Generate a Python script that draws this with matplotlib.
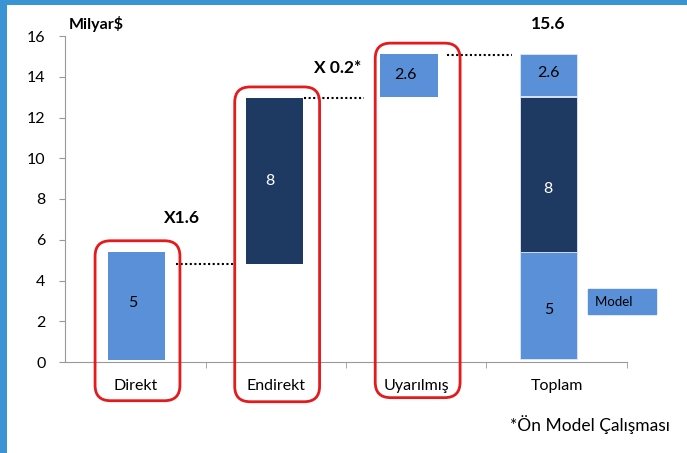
import numpy as np
import matplotlib
matplotlib.use("Agg")
from matplotlib import pyplot as plt
from matplotlib.patches import FancyBboxPatch, Rectangle

# categories and values
categories = ["Direkt", "Endirekt", "Uyarılmış", "Toplam"]
bar_x = [0.01, 0.99, 1.95, 2.94]

# single bars (bottom, top)
single_bottom = [0.1, 4.8, 13.0]
single_top = [5.4, 12.95, 15.1]
single_label = ["5", "8", "2.6"]
single_label_y = [2.9, 8.9, 14.1]

# stacked total bar
total_bottom = [0.15, 5.4, 13.05]
total_top = [5.4, 13.0, 15.1]
total_label = ["5", "8", "2.6"]
total_label_y = [2.55, 8.5, 14.2]
total_value = "15.6"
multipliers = ["X1.6", "X 0.2*"]

# red frames: center x, bottom
frame_x = [0.016, 1.01, 2.01]
frame_bottom = [-1.9, -1.95, -1.75]

light = "#5a90d8"
dark = "#1f3a62"
single_color = [light, dark, light]
total_color = [light, dark, light]

plt.rcParams['font.family'] = ['Lato', 'DejaVu Sans']

fig = plt.figure(figsize=(6.87, 4.53), dpi=100)
ax = fig.add_axes([65/687, 91/453, 562/687, 326/453])

w = 0.41
for i in range(3):
    ax.bar(bar_x[i], single_top[i] - single_bottom[i], bottom=single_bottom[i],
           width=w, color=single_color[i], edgecolor="none")
    ax.text(bar_x[i] - 0.03, single_label_y[i], single_label[i], ha="center",
            va="center", fontsize=11.5,
            color="white" if single_color[i] == dark else "black")

for k in range(3):
    ax.bar(bar_x[3], total_top[k] - total_bottom[k], bottom=total_bottom[k],
           width=w, color=total_color[k], edgecolor="#dfe8f5", linewidth=0.6)
    ax.text(bar_x[3], total_label_y[k], total_label[k], ha="center", va="center",
            fontsize=11.5, color="white" if total_color[k] == dark else "black")

# red rounded frames around the first three bars
aspect = (562 / 4) / (326 / 16)
for i in range(3):
    box = FancyBboxPatch((frame_x[i] - 0.302, frame_bottom[i]), 0.604,
                         single_top[i] + 0.55 - frame_bottom[i],
                         boxstyle="round,pad=0,rounding_size=0.11",
                         mutation_aspect=aspect, fill=False, edgecolor="#e41a1c",
                         linewidth=2, clip_on=False, zorder=5)
    ax.add_patch(box)

# dotted connectors
dot = (0, (1, 1.2))
ax.plot([0.29, 0.72], [single_bottom[1], single_bottom[1]], ls=dot,
        color="black", lw=1.5, clip_on=False)
ax.plot([1.2, 1.63], [single_top[1], single_top[1]], ls=dot,
        color="black", lw=1.5, clip_on=False)
ax.plot([2.22, 2.68], [single_top[2] - 0.05, single_top[2] - 0.05], ls=dot,
        color="black", lw=1.5, clip_on=False)

ax.text(0.33, 7.05, multipliers[0], ha="center", va="center", fontsize=12.5, fontweight="bold")
ax.text(1.44, 14.45, multipliers[1], ha="center", va="center", fontsize=12.5, fontweight="bold")
ax.text(bar_x[3], 16.6, total_value, ha="center", va="center", fontsize=12.5, fontweight="bold")
ax.text(-0.47, 16.6, "Milyar$", ha="left", va="center", fontsize=11.5, fontweight="bold")

# legend-like box
ax.text(3.27, 2.95, "Model     ", ha="left", va="center", fontsize=9.5,
        bbox=dict(boxstyle="square,pad=0.5", facecolor=light, edgecolor=light),
        clip_on=False)

fig.text(670/687, 1 - 425/453, "*Ön Model Çalışması", ha="right", va="center", fontsize=12.5)

ax.set_xlim(-0.5, 3.5)
ax.set_ylim(0, 16)
ax.set_yticks(np.arange(0, 17, 2))
ax.set_xticks(range(4))
ax.set_xticklabels(categories, fontsize=11.5)
ax.set_xticks([0.5, 1.5, 2.5, 3.5], minor=True)
ax.tick_params(axis="x", which="major", length=0, pad=12)
ax.tick_params(axis="x", which="minor", length=4, color="#999999", direction="out")
ax.tick_params(axis="y", length=4, color="#999999", labelsize=11.5, pad=10)
for s in ["top", "right"]:
    ax.spines[s].set_visible(False)
ax.spines["left"].set_color("#999999")
ax.spines["bottom"].set_color("#999999")

# blue frame edges
fig.patches.append(Rectangle((0, 0), 7/687, 1, transform=fig.transFigure,
                             facecolor="#3a94d3", edgecolor="none"))
fig.patches.append(Rectangle((0, 1 - 5/453), 1, 5/453, transform=fig.transFigure,
                             facecolor="#3a94d3", edgecolor="none"))

plt.savefig("out.png", dpi=100)
